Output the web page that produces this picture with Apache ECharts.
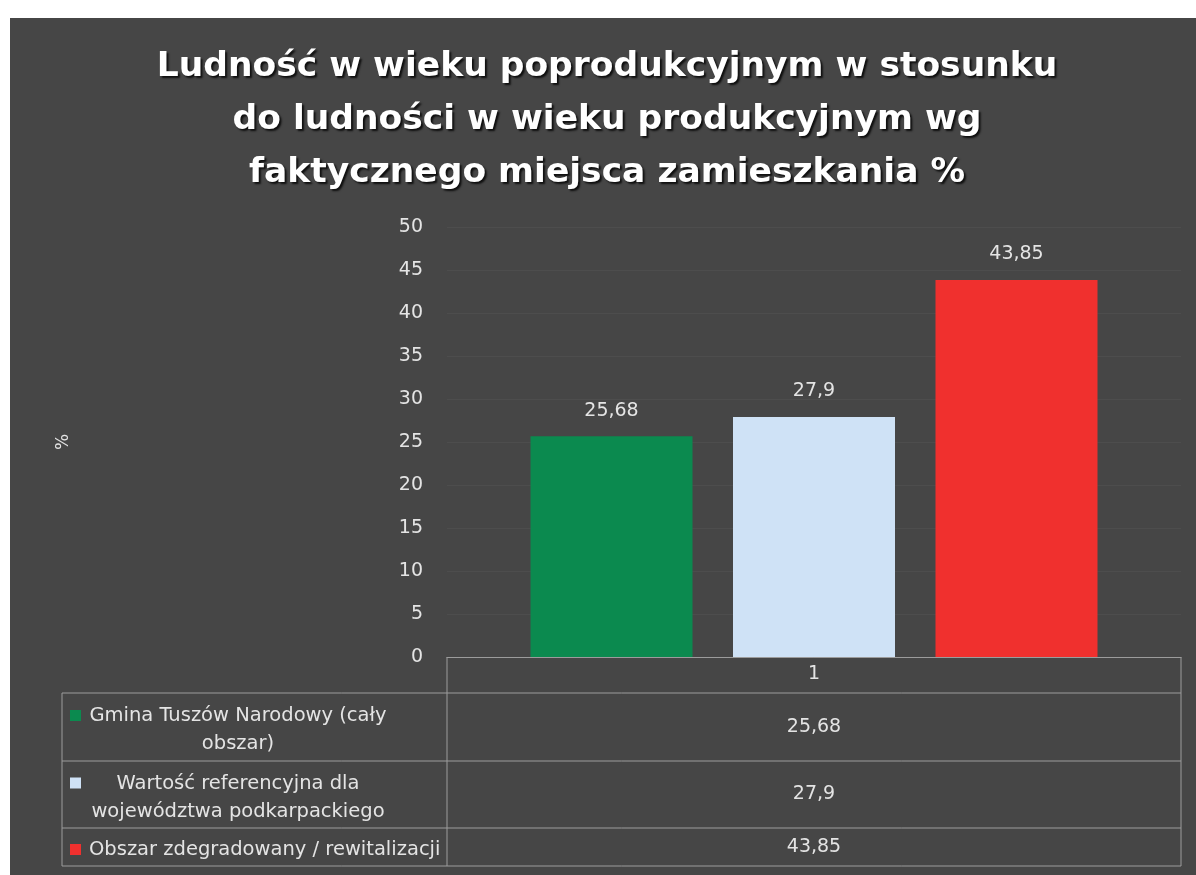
<!DOCTYPE html>
<html>
<head>
<meta charset="utf-8">
<script src="https://cdn.jsdelivr.net/npm/echarts@6/dist/echarts.min.js"></script>
<style>
html,body{margin:0;padding:0;background:#fff;}
#wrap{position:relative;width:1196px;height:875px;background:#fff;overflow:hidden;}
#panel{position:absolute;left:10px;top:18px;right:0;bottom:0;background:#464646;}
#chart{position:absolute;left:0;top:0;width:1196px;height:875px;}
</style>
</head>
<body>
<div id="wrap"><div id="panel"></div><div id="chart"></div></div>
<script>
const titleLines = [
  'Ludność w wieku poprodukcyjnym w stosunku',
  'do ludności w wieku produkcyjnym wg',
  'faktycznego miejsca zamieszkania %'
];
const categories = ['1'];
const seriesNames = [
  'Gmina Tuszów Narodowy (cały obszar)',
  'Wartość referencyjna dla województwa podkarpackiego',
  'Obszar zdegradowany / rewitalizacji'
];
const tableLabels = [
  ['Gmina Tuszów Narodowy (cały', 'obszar)'],
  ['Wartość referencyjna dla', 'województwa podkarpackiego'],
  ['Obszar zdegradowany / rewitalizacji']
];
const values = [25.68, 27.9, 43.85];
const colors = ['#0b8a4f', '#cfe2f6', '#f0302e'];
const yTicks = [0, 5, 10, 15, 20, 25, 30, 35, 40, 45, 50];
const yName = '%';

const fmt = v => String(v).replace('.', ',');
const FONT = '"DejaVu Sans", "Open Sans", sans-serif';
const TXT = '#e4e4e4';

// layout
const gridLeft = 447, gridRight = 1181, gridTop = 227, gridBottom = 657;
const tableLeft = 62;
const rowLines = [693, 761, 828, 866];
const lineColor = '#9c9c9c';
const LH = 28;

const chart = echarts.init(document.getElementById('chart'), null, {renderer: 'canvas'});

const series = seriesNames.map((name, i) => ({
  name: name,
  type: 'bar',
  data: [values[i]],
  barWidth: 162,
  barGap: '25%',
  itemStyle: {color: colors[i]},
  label: {
    show: true,
    position: 'top',
    distance: 16,
    color: TXT,
    fontSize: 19,
    fontFamily: FONT,
    formatter: p => fmt(p.value)
  }
}));

const graphics = [];
const hl = (x1, x2, y) => graphics.push({type: 'line', shape: {x1, y1: y, x2, y2: y}, style: {stroke: lineColor, lineWidth: 1}, silent: true});
const vl = (x, y1, y2) => graphics.push({type: 'line', shape: {x1: x, y1, x2: x, y2}, style: {stroke: lineColor, lineWidth: 1}, silent: true});
rowLines.forEach(y => hl(tableLeft, gridRight, y));
vl(tableLeft, rowLines[0], rowLines[3]);
vl(gridLeft, gridBottom, rowLines[3]);
vl(gridRight, gridBottom, rowLines[3]);

const valCenter = (gridLeft + gridRight) / 2;
for (let i = 0; i < seriesNames.length; i++) {
  const yc = (rowLines[i] + rowLines[i + 1]) / 2 + 3;
  const lines = tableLabels[i];
  const firstLineY = yc - (lines.length - 1) * LH / 2;
  graphics.push({
    type: 'rect',
    shape: {x: 70, y: firstLineY - 6, width: 11, height: 11},
    style: {fill: colors[i]},
    silent: true
  });
  const single = lines.length === 1;
  graphics.push({
    type: 'text',
    x: single ? 89 : 238, y: yc,
    style: {
      text: lines.join('\n'),
      align: single ? 'left' : 'center', verticalAlign: 'middle',
      fill: TXT, font: '19.5px ' + FONT, lineHeight: LH
    },
    silent: true
  });
  graphics.push({
    type: 'text',
    x: valCenter, y: (rowLines[i] + rowLines[i + 1]) / 2,
    style: {
      text: fmt(values[i]),
      align: 'center', verticalAlign: 'middle',
      fill: TXT, font: '19px ' + FONT
    },
    silent: true
  });
}

chart.setOption({
  backgroundColor: 'transparent',
  animation: false,
  title: {
    text: titleLines.join('\n'),
    left: 602,
    textAlign: 'center',
    top: 36,
    textStyle: {
      color: '#ffffff',
      fontSize: 34.5,
      fontWeight: 'bold',
      fontFamily: FONT,
      lineHeight: 53,
      textShadowColor: 'rgba(0,0,0,0.8)',
      textShadowBlur: 2,
      textShadowOffsetX: 2,
      textShadowOffsetY: 2
    }
  },
  grid: {
    left: gridLeft, right: 1196 - gridRight, top: gridTop, bottom: 875 - gridBottom,
    containLabel: false
  },
  xAxis: {
    type: 'category',
    data: categories,
    axisLine: {show: true, lineStyle: {color: lineColor, width: 1}},
    axisTick: {show: false},
    axisLabel: {color: TXT, fontSize: 19, fontFamily: FONT, margin: 8}
  },
  yAxis: {
    type: 'value',
    min: yTicks[0],
    max: yTicks[yTicks.length - 1],
    interval: yTicks[1] - yTicks[0],
    name: yName,
    nameLocation: 'middle',
    nameGap: 375,
    nameRotate: 90,
    nameTextStyle: {color: TXT, fontSize: 17, fontFamily: FONT},
    axisLine: {show: false},
    axisTick: {show: false},
    axisLabel: {color: TXT, fontSize: 19, fontFamily: FONT, margin: 24},
    splitLine: {show: true, lineStyle: {color: '#4d4d4d', width: 1}}
  },
  series: series,
  graphic: graphics
});
</script>
</body>
</html>
